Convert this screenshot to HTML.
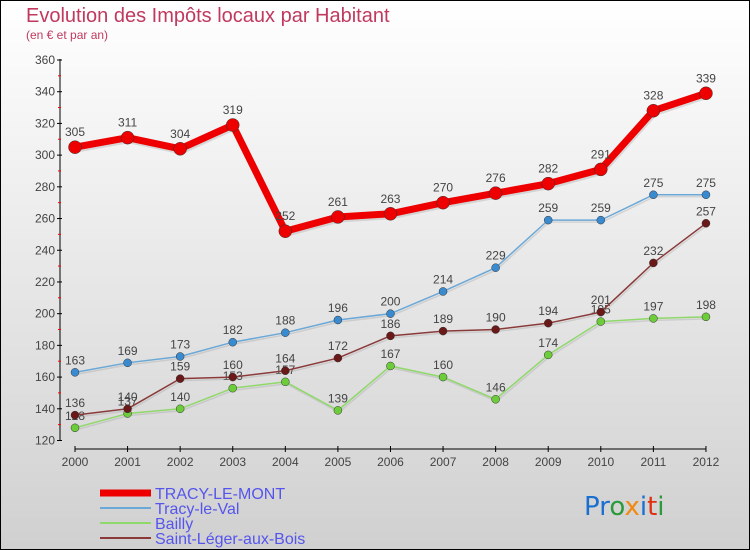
<!DOCTYPE html>
<html><head><meta charset="utf-8"><style>
body{margin:0;}
#wrap{width:750px;height:550px;position:relative;overflow:hidden;font-family:"Liberation Sans",sans-serif;}
</style></head><body>
<div id="wrap">
<svg id="chart" width="750" height="550" xmlns="http://www.w3.org/2000/svg">
<defs><linearGradient id="bg" x1="0" y1="0" x2="0" y2="1"><stop offset="0" stop-color="#ffffff"/><stop offset="1" stop-color="#d0d0d0"/></linearGradient></defs>
<rect x="0.5" y="0.5" width="749" height="549" fill="url(#bg)" stroke="#000"/>
<text x="26" y="22" font-size="20" fill="#c0395f">Evolution des Impôts locaux par Habitant</text>
<text x="26" y="39" font-size="12" fill="#c0395f">(en € et par an)</text>
<g id="axes"></g>
<g id="series"></g>
<g id="legend"></g>
<text x="584" y="515" font-size="26" font-family="DejaVu Sans, sans-serif"><tspan fill="#1a6fd0">Pr</tspan><tspan fill="#2a9a3a">o</tspan><tspan fill="#f08a10">x</tspan><tspan fill="#1a6fd0">i</tspan><tspan fill="#e03010">t</tspan><tspan fill="#2a9a3a">i</tspan></text>
</svg>
</div>
<script>
const years=[2000,2001,2002,2003,2004,2005,2006,2007,2008,2009,2010,2011,2012];
const tracyMont=[305,311,304,319,252,261,263,270,276,282,291,328,339];
const tracyVal=[163,169,173,182,188,196,200,214,229,259,259,275,275];
const bailly=[128,137,140,153,157,139,167,160,146,174,195,197,198];
const saintLeger=[136,140,159,160,164,172,186,189,190,194,201,232,257];
const yTicks=[120,140,160,180,200,220,240,260,280,300,320,340,360];
const NS="http://www.w3.org/2000/svg";
const xs=i=>75+i*52.58;
const ys=v=>440.5-(v-120)*(380.5/240);
function mk(tag,attrs,parent){const e=document.createElementNS(NS,tag);for(const k in attrs)e.setAttribute(k,attrs[k]);parent.appendChild(e);return e;}
const ax=document.getElementById('axes');
const yl=mk('line',{x1:60,y1:59,x2:60,y2:441,stroke:'#000'},ax);


yTicks.forEach((t,i)=>{
 const y=ys(t);
 mk('line',{x1:57,y1:y,x2:62,y2:y,stroke:'#000'},ax);
 if(i<yTicks.length-1)mk('line',{x1:58,y1:y-15.9,x2:61,y2:y-15.9,stroke:'#f00'},ax);
 const tx=mk('text',{x:55,y:y+4,'font-size':12,'text-anchor':'end',fill:'#444'},ax);
 tx.textContent=t;
 
 
});
const xl=mk('line',{x1:75,y1:449,x2:706,y2:449,stroke:'#000'},ax);


years.forEach((yr,i)=>{
 mk('line',{x1:xs(i),y1:446,x2:xs(i),y2:452,stroke:'#000'},ax);
 const tx=mk('text',{x:xs(i),y:466,'font-size':12,'text-anchor':'middle',fill:'#444'},ax);
 tx.textContent=yr;
 
 
});
const sg=document.getElementById('series');
function draw(data,name,color,dot,w,r){
 const g=mk('g',{},sg);
 
 
 const pts=data.map((v,i)=>xs(i)+','+ys(v)).join(' ');
 mk('polyline',{points:pts,fill:'none',stroke:'#999','stroke-opacity':0.3,'stroke-width':w,transform:'translate(1,2)'},g);
 mk('polyline',{points:pts,fill:'none',stroke:color,'stroke-width':w,'stroke-linejoin':'round'},g);
 data.forEach((v,i)=>{
  const c=mk('circle',{cx:xs(i),cy:ys(v),r:r,fill:dot,stroke:'#333','stroke-width':0.5},g);
  
  
  const t=mk('text',{x:xs(i),y:ys(v)-8-(r>5?3:0),'font-size':12,'text-anchor':'middle',fill:'#444'},g);
  t.textContent=v;
  
  
 });
}
draw(bailly,'series-bailly','#8fd86a','#6ccc3a',1.5,4);
draw(saintLeger,'series-saint-leger','#8b3a3a','#6a1818',1.5,4);
draw(tracyVal,'series-tracy-le-val','#6aa8d8','#3a8ad0',1.5,4);
draw(tracyMont,'series-tracy-le-mont','#ee0000','#ee0000',7,6.5);
const lg=document.getElementById('legend');
const items=[['TRACY-LE-MONT','#ee0000',7],['Tracy-le-Val','#6aa8d8',2],['Bailly','#8fd86a',2],['Saint-Léger-aux-Bois','#8b3a3a',2]];
items.forEach((it,i)=>{
 const y=493+i*15;
 mk('line',{x1:100,y1:y,x2:151,y2:y,stroke:it[1],'stroke-width':it[2]},lg);
 const t=mk('text',{x:155,y:y+6,'font-size':16,fill:'#5555ee'},lg);
 t.textContent=it[0];
 
 
});
</script>
</body></html>
